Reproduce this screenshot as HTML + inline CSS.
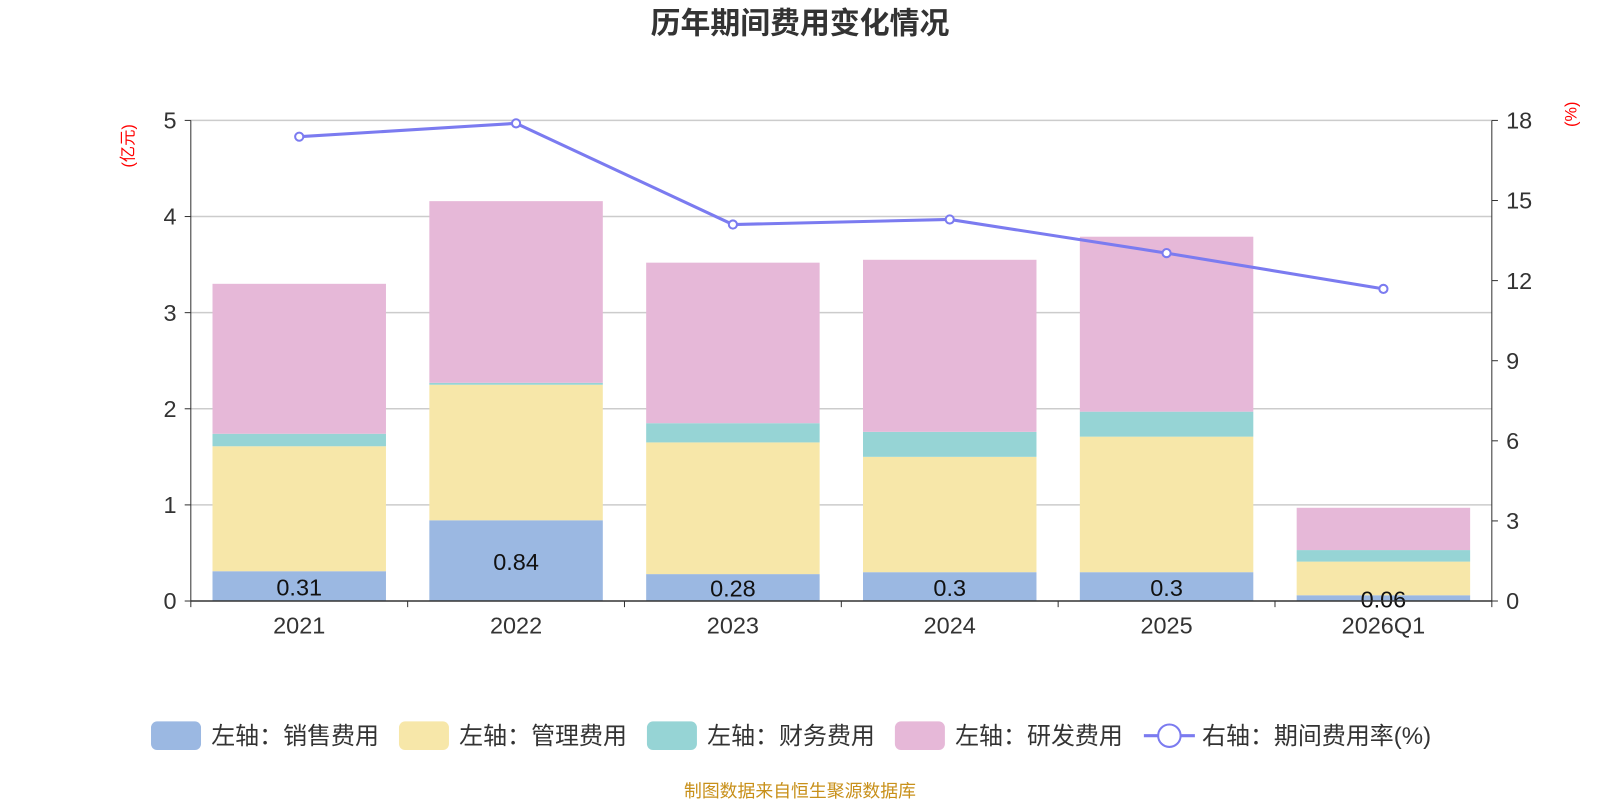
<!DOCTYPE html>
<html><head><meta charset="utf-8"><style>
body{margin:0;background:#fff;width:1600px;height:800px;overflow:hidden;font-family:"Liberation Sans","Noto Sans CJK SC",sans-serif}
</style></head><body>
<svg id="c" width="1600" height="800" font-family="Liberation Sans, Noto Sans CJK SC, sans-serif">
<g transform="scale(1.0204)">
<text x="784" y="33" text-anchor="middle" font-size="29.3" font-weight="bold" fill="#333">历年期间费用变化情况</text>
<text x="0" y="0" transform="translate(131,143) rotate(-90)" text-anchor="middle" font-size="16" fill="red">(亿元)</text>
<text x="0" y="0" transform="translate(1545,112) rotate(-90)" text-anchor="middle" font-size="16" fill="red">(%)</text>
<g id="grid"></g><g id="bars"></g><g id="axes"></g><g id="line"></g>
<g id="legend" font-size="23.5" fill="#333"></g>
<text x="784" y="781" text-anchor="middle" font-size="17.5" fill="#c8901a">制图数据来自恒生聚源数据库</text>
</g>
</svg>
<script>
const categories=["2021","2022","2023","2024","2025","2026Q1"];
const sales=[0.31,0.84,0.28,0.30,0.30,0.06];
const mgmt=[1.30,1.41,1.37,1.20,1.41,0.35];
const fin=[0.13,0.02,0.20,0.26,0.26,0.12];
const rd=[1.56,1.89,1.67,1.79,1.82,0.44];
const rate=[17.39,17.89,14.10,14.29,13.03,11.69];
const leftTicks=[0,1,2,3,4,5];
const rightTicks=[0,3,6,9,12,15,18];
const salesLabels=["0.31","0.84","0.28","0.3","0.3","0.06"];
const NS="http://www.w3.org/2000/svg";
const X0=187,X1=1462,Y0=589,Y1=118;
const band=(X1-X0)/categories.length;
const yL=v=>Y0-(v/5)*(Y0-Y1);
const yR=v=>Y0-(v/18)*(Y0-Y1);
const xC=i=>X0+band*(i+0.5);
function mk(tag,a,p){const e=document.createElementNS(NS,tag);for(const k in a)e.setAttribute(k,a[k]);p.appendChild(e);return e;}
const grid=document.getElementById('grid'),axes=document.getElementById('axes'),bars=document.getElementById('bars'),line=document.getElementById('line'),lg=document.getElementById('legend');
leftTicks.forEach(t=>{
 if(t>0){const g=mk('line',{x1:X0,x2:X1,y1:yL(t),y2:yL(t),stroke:'#ccc','stroke-width':1.5},grid);
 }
 const tx=mk('text',{x:173,y:yL(t)+8,'text-anchor':'end','font-size':23,fill:'#333'},axes);tx.textContent=t;
 
 mk('line',{x1:X0-6,x2:X0,y1:yL(t),y2:yL(t),stroke:'#333'},axes);
});
rightTicks.forEach(t=>{
 const tx=mk('text',{x:1476,y:yR(t)+8,'font-size':23,fill:'#333'},axes);tx.textContent=t;
 
 mk('line',{x1:X1,x2:X1+6,y1:yR(t),y2:yR(t),stroke:'#333'},axes);
});
mk('line',{x1:X0,x2:X0,y1:Y1,y2:Y0,stroke:'#333'},axes);
mk('line',{x1:X1,x2:X1,y1:Y1,y2:Y0,stroke:'#333'},axes);
const series=[[sales,'#9bb8e2','sales'],[mgmt,'#f7e7a9','management'],[fin,'#96d4d5','finance'],[rd,'#e6b8d8','rnd']];
categories.forEach((c,i)=>{
 mk('line',{x1:X0+band*i,x2:X0+band*i,y1:Y0,y2:Y0+6,stroke:'#333'},axes);
 const tx=mk('text',{x:xC(i),y:621,'text-anchor':'middle','font-size':23,fill:'#333'},axes);tx.textContent=c;
 
 let acc=0;
 series.forEach(([arr,col,nm])=>{
  const r=mk('rect',{x:xC(i)-85,width:170,y:yL(acc+arr[i]),height:yL(acc)-yL(acc+arr[i]),fill:col},bars);
  
  acc+=arr[i];
 });
 const lb=mk('text',{x:xC(i),y:Math.min((yL(0)+yL(sales[i]))/2+9,597),'text-anchor':'middle','font-size':23,fill:'#111'},bars);
 lb.textContent=salesLabels[i];
 
});
mk('line',{x1:X0,x2:X1,y1:Y0,y2:Y0,stroke:'#333','stroke-width':1.5},axes);
mk('line',{x1:X1,x2:X1,y1:Y0,y2:Y0+6,stroke:'#333'},axes);
const pts=rate.map((v,i)=>xC(i)+','+yR(v)).join(' ');
const pl=mk('polyline',{points:pts,fill:'none',stroke:'#7b7bf0','stroke-width':3},line);

rate.forEach((v,i)=>{const p=mk('circle',{cx:xC(i),cy:yR(v),r:4,fill:'#fff',stroke:'#7b7bf0','stroke-width':2},line);
 });
const legItems=[['左轴：销售费用','#9bb8e2',148],['左轴：管理费用','#f7e7a9',391],['左轴：财务费用','#96d4d5',634],['左轴：研发费用','#e6b8d8',877]];
legItems.forEach(([t,c,x])=>{
 const g=mk('g',{},lg);
 mk('rect',{x:x,y:707,width:49,height:28,rx:6,fill:c},g);
 const tx=mk('text',{x:x+59,y:729},g);tx.textContent=t;
});
const g=mk('g',{},lg);
mk('line',{x1:1121,x2:1171,y1:721,y2:721,stroke:'#7b7bf0','stroke-width':3},g);
mk('circle',{cx:1146,cy:721,r:11,fill:'#fff',stroke:'#7b7bf0','stroke-width':2},g);
const tx=mk('text',{x:1178,y:729},g);tx.textContent='右轴：期间费用率(%)';
</script>
</body></html>
